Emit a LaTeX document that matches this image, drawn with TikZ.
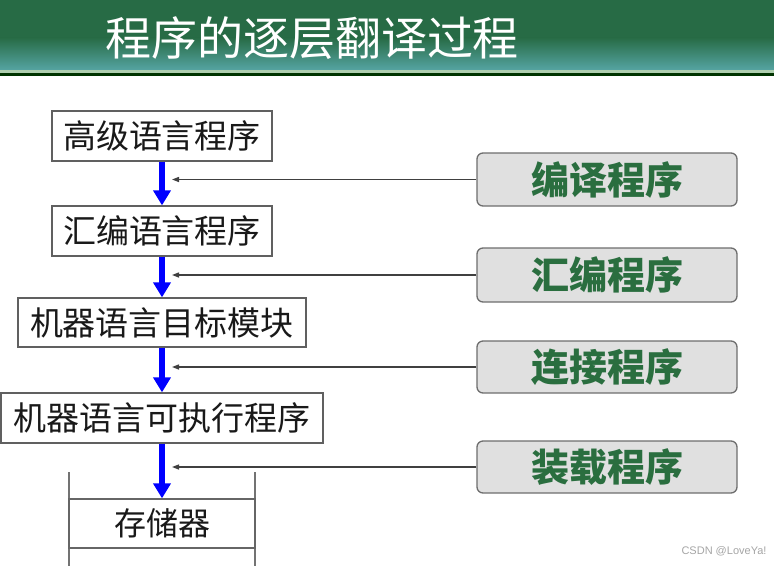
\documentclass[tikz,border=0pt]{standalone}
\usepackage{fontspec}
\newfontfamily\cjk{Noto Sans CJK SC}
\usetikzlibrary{arrows.meta}
\definecolor{titletop}{HTML}{276B45}
\definecolor{titlemid}{HTML}{2E7450}
\definecolor{titlebot}{HTML}{55A4A2}
\definecolor{rfill}{HTML}{E0E0E0}
\definecolor{rdraw}{HTML}{6E6E6E}
\definecolor{rtext}{HTML}{2A6E3F}
\definecolor{ldraw}{HTML}{606060}
\tikzset{
  lbox/.style={draw=ldraw, line width=1.3pt, fill=white, inner sep=0pt, font=\cjk\fontsize{33}{36}\selectfont, text=black!90},
  rbox/.style={draw=rdraw, line width=1.3pt, fill=rfill, rounded corners=6pt, inner sep=0pt, minimum width=260pt, font=\cjk\bfseries\fontsize{38}{40}\selectfont, text=rtext},
  bluearrow/.style={draw=blue, line width=6pt, -{Triangle[width=17pt,length=15pt]}},
  thinarrow/.style={draw=black!75, line width=1.3pt, -{Triangle[width=5pt,length=7pt]}},
  memline/.style={draw=black!55, line width=1.3pt}
}
\begin{document}
\begin{tikzpicture}[x=1pt,y=-1pt]
\useasboundingbox (0,0) rectangle (774,566);
\fill[white] (0,0) rectangle (774,566);
% title bar
\fill[titletop] (0,0) rectangle (774,38);
\shade[top color=titletop, bottom color=titlebot] (0,37.5) rectangle (774,70);
\fill[green!25!gray!50!white] (0,70) rectangle (774,72.5);
\fill[black!60!green!50!black] (0,72.5) rectangle (774,76);
\node[text=white, anchor=center, inner sep=0pt] (title) at (312,38) {\cjk\fontsize{46}{48}\selectfont 程序的逐层翻译过程};
% left boxes
\node[lbox, minimum width=220pt, minimum height=50pt] (b1) at (162,136) {高级语言程序};
\node[lbox, minimum width=220pt, minimum height=50pt] (b2) at (162,231) {汇编语言程序};
\node[lbox, minimum width=288pt, minimum height=49pt] (b3) at (162,322.5) {机器语言目标模块};
\node[lbox, minimum width=322pt, minimum height=50pt] (b4) at (162,418) {机器语言可执行程序};
% memory
\coordinate (m1t) at (69,472);
\coordinate (m1b) at (69,566);
\coordinate (m2t) at (255,472);
\coordinate (m2b) at (255,566);
\draw[memline] (m1t) -- (m1b);
\draw[memline] (m2t) -- (m2b);
\node[lbox, draw=black!60, minimum width=186pt, minimum height=49pt, font=\cjk\fontsize{32}{34}\selectfont] (mem) at (162,523.5) {存储器};
% right boxes
\node[rbox, minimum height=53pt] (r1) at (607,179.5) {编译程序};
\node[rbox, minimum height=54pt] (r2) at (607,275) {汇编程序};
\node[rbox, minimum height=52pt] (r3) at (607,367) {连接程序};
\node[rbox, minimum height=52pt] (r4) at (607,467) {装载程序};
% blue arrows
\draw[bluearrow] (b1.south) -- (b2.north);
\draw[bluearrow] (b2.south) -- (b3.north);
\draw[bluearrow] (b3.south) -- (b4.north);
\draw[bluearrow] (b4.south) -- (mem.north);
% thin arrows
\coordinate (t1) at (172,179.5);
\coordinate (t2) at (172,275);
\coordinate (t3) at (172,367);
\coordinate (t4) at (172,467);
\draw[thinarrow] (r1.west) -- (t1);
\draw[thinarrow] (r2.west) -- (t2);
\draw[thinarrow] (r3.west) -- (t3);
\draw[thinarrow] (r4.west) -- (t4);
% watermark
\node[text=black!35, font=\fontspec{Liberation Sans}\fontsize{11}{12}\selectfont, anchor=east] (wm) at (770,551) {CSDN @LoveYa!};
\end{tikzpicture}
\end{document}
